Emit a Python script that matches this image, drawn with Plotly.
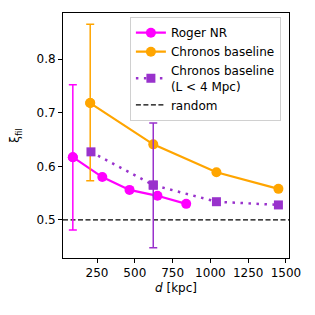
import plotly.graph_objects as go

# Data
roger_x = [90, 285, 465, 650, 840]
roger_y = [0.617, 0.580, 0.556, 0.545, 0.530]
roger_err_x = [90]
roger_err_y = [0.617]
roger_err_plus = [0.135]
roger_err_minus = [0.136]

chronos_x = [205, 622, 1040, 1450]
chronos_y = [0.718, 0.641, 0.589, 0.558]
chronos_err_x = [205]
chronos_err_y = [0.718]
chronos_err_plus = [0.147]
chronos_err_minus = [0.145]

chronos4_x = [210, 622, 1040, 1450]
chronos4_y = [0.627, 0.565, 0.534, 0.528]
chronos4_err_x = [622]
chronos4_err_y = [0.565]
chronos4_err_plus = [0.116]
chronos4_err_minus = [0.117]

random_level = 0.5
x_range = [25, 1520]
y_range = [0.429, 0.886]
x_ticks = [250, 500, 750, 1000, 1250, 1500]
y_ticks = [0.5, 0.6, 0.7, 0.8]

MAG = "#FF00FF"
ORA = "#FFA500"
PUR = "#9932CC"

fig = go.Figure()

fig.add_trace(go.Scatter(x=x_range, y=[random_level, random_level], mode="lines",
                         line=dict(color="black", width=1.3, dash="5px,2.5px"),
                         name="random", legendrank=4))

fig.add_trace(go.Scatter(x=roger_x, y=roger_y, mode="lines+markers",
                         line=dict(color=MAG, width=2.2),
                         marker=dict(color=MAG, size=10, symbol="circle"),
                         name="Roger NR", legendrank=1))
fig.add_trace(go.Scatter(x=roger_err_x, y=roger_err_y, mode="markers",
                         marker=dict(color=MAG, size=10, opacity=1),
                         error_y=dict(type="data", symmetric=False, array=roger_err_plus,
                                      arrayminus=roger_err_minus, color=MAG, thickness=1.5, width=4),
                         showlegend=False))

fig.add_trace(go.Scatter(x=chronos_x, y=chronos_y, mode="lines+markers",
                         line=dict(color=ORA, width=2.2),
                         marker=dict(color=ORA, size=10, symbol="circle"),
                         name="Chronos baseline", legendrank=2))
fig.add_trace(go.Scatter(x=chronos_err_x, y=chronos_err_y, mode="markers",
                         marker=dict(color=ORA, size=10, opacity=1),
                         error_y=dict(type="data", symmetric=False, array=chronos_err_plus,
                                      arrayminus=chronos_err_minus, color=ORA, thickness=1.5, width=4),
                         showlegend=False))

fig.add_trace(go.Scatter(x=chronos4_x, y=chronos4_y, mode="lines+markers",
                         line=dict(color=PUR, width=2.5, dash="2.5px,5.5px"),
                         marker=dict(color=PUR, size=9, symbol="square"),
                         name="Chronos baseline<br>(L < 4 Mpc)", legendrank=3))
fig.add_trace(go.Scatter(x=chronos4_err_x, y=chronos4_err_y, mode="markers",
                         marker=dict(color=PUR, size=9, symbol="square", opacity=1),
                         error_y=dict(type="data", symmetric=False, array=chronos4_err_plus,
                                      arrayminus=chronos4_err_minus, color=PUR, thickness=1.5, width=4),
                         showlegend=False))

axis_common = dict(showgrid=False, zeroline=False, showline=True, linecolor="black", linewidth=1,
                   mirror=True, ticks="outside", ticklen=4, tickwidth=1, tickcolor="black",
                   automargin=False,
                   tickfont=dict(family="DejaVu Sans", size=12, color="black"))

fig.update_layout(
    width=315, height=315,
    margin=dict(l=55, r=34, t=5, b=65, autoexpand=False),
    plot_bgcolor="white", paper_bgcolor="white",
    font=dict(family="DejaVu Sans", size=12, color="black"),
    xaxis=dict(range=x_range, tickvals=x_ticks, ticktext=[str(t) for t in x_ticks],
               title=dict(text="<i>d</i> [kpc]", font=dict(size=12), standoff=4), **axis_common),
    yaxis=dict(range=y_range, tickvals=y_ticks, ticktext=[f"{t:.1f}" for t in y_ticks],
               title=dict(text="ξ<sub>fil</sub>", font=dict(size=12), standoff=18), **axis_common),
    legend=dict(x=0.296, y=0.983, xanchor="left", yanchor="top",
                bgcolor="rgba(255,255,255,0.85)", bordercolor="#d0d0d0", borderwidth=1,
                font=dict(family="DejaVu Sans", size=12, color="black"),
                tracegroupgap=0, itemwidth=30),
    showlegend=True,
)

fig.write_html("out.html")
